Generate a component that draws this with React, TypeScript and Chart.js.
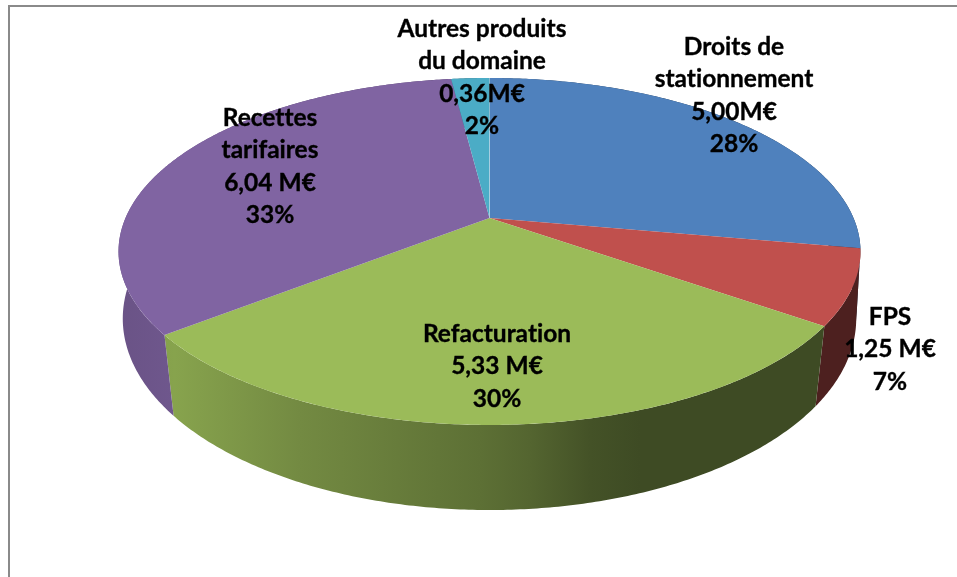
import React, { useEffect, useRef } from "react";
import { Chart, registerables } from "chart.js";

Chart.register(...registerables);

const categories = ["Droits de stationnement", "FPS", "Refacturation", "Recettes tarifaires", "Autres produits du domaine"];
const values = [5.0, 1.25, 5.33, 6.04, 0.36];
const colors = ["#4f81bd", "#c0504d", "#9bbb59", "#8064a2", "#4bacc6"];
const labelLines = [
  ["Droits de", "stationnement", "5,00M€", "28%"],
  ["FPS", "1,25 M€", "7%"],
  ["Refacturation", "5,33 M€", "30%"],
  ["Recettes", "tarifaires", "6,04 M€", "33%"],
  ["Autres produits", "du domaine", "0,36M€", "2%"],
];
const labelX = [734, 890, 497, 270, 482];
const labelY = [47, 317, 334, 118, 29];
const LINE_H = 32.3;

// perspective of the pie's top and bottom faces
const PX = 489.5;
const PY = 218;
const TOP = { b: 364, a: 167, y: PY, k: 0.193 };
const BOTTOM = { b: 362, a: 186.5, y: 288, k: 0.16 };
const SHADE_X = [119, 175, 300, 480, 530, 590, 640, 861];
const SHADE_F = [0.83, 0.87, 0.74, 0.6, 0.54, 0.44, 0.4, 0.4];

function project(f: { b: number; a: number; y: number; k: number }, angle: number) {
  const u = Math.cos(angle);
  const v = Math.sin(angle);
  const d = 1 - f.k * v;
  return { x: PX + (f.b * u) / d, y: f.y + (f.a * v) / d };
}

function hexShade(hex: string, f: number) {
  const n = parseInt(hex.slice(1), 16);
  const r = Math.round(((n >> 16) & 255) * f);
  const g = Math.round(((n >> 8) & 255) * f);
  const b = Math.round((n & 255) * f);
  return `rgb(${r},${g},${b})`;
}

const pie3d = {
  id: "pie3d",
  beforeDatasetDraw(chart: any) {
    const ctx = chart.ctx;
    const arcs = chart.getDatasetMeta(0).data;
    const x0 = SHADE_X[0];
    const xn = SHADE_X[SHADE_X.length - 1];
    arcs.forEach((arc: any, i: number) => {
      const g = ctx.createLinearGradient(x0, 0, xn, 0);
      SHADE_X.forEach((x, k) => g.addColorStop((x - x0) / (xn - x0), hexShade(colors[i], SHADE_F[k])));
      const n = Math.max(4, Math.ceil((arc.endAngle - arc.startAngle) / 0.01));
      ctx.beginPath();
      for (let s = 0; s <= n; s++) {
        const p = project(TOP, arc.startAngle + ((arc.endAngle - arc.startAngle) * s) / n);
        if (s === 0) ctx.moveTo(p.x, p.y);
        else ctx.lineTo(p.x, p.y);
      }
      for (let s = n; s >= 0; s--) {
        const p = project(BOTTOM, arc.startAngle + ((arc.endAngle - arc.startAngle) * s) / n);
        ctx.lineTo(p.x, p.y);
      }
      ctx.closePath();
      ctx.fillStyle = g;
      ctx.fill();
    });
    arcs.forEach((arc: any, i: number) => {
      const n = Math.max(4, Math.ceil((arc.endAngle - arc.startAngle) / 0.008));
      ctx.beginPath();
      ctx.moveTo(PX, PY);
      for (let s = 0; s <= n; s++) {
        const p = project(TOP, arc.startAngle + ((arc.endAngle - arc.startAngle) * s) / n);
        ctx.lineTo(p.x, p.y);
      }
      ctx.closePath();
      ctx.fillStyle = colors[i];
      ctx.fill();
    });
    const last = arcs[arcs.length - 1];
    const edge = project(TOP, last.endAngle);
    ctx.beginPath();
    ctx.moveTo(PX, PY);
    ctx.lineTo(edge.x, edge.y);
    ctx.strokeStyle = "rgba(255,255,255,0.35)";
    ctx.lineWidth = 1;
    ctx.stroke();
    return false;
  },
  afterDraw(chart: any) {
    const ctx = chart.ctx;
    ctx.save();
    ctx.fillStyle = "#8a8a8a";
    ctx.fillRect(8, 5, 949, 2);
    ctx.fillRect(8, 5, 2, 572);
    ctx.fillStyle = "#000";
    ctx.strokeStyle = "#000";
    ctx.lineWidth = 0.35;
    ctx.font = "bold 24.5px Lato";
    ctx.fontVariantLigatures = "none";
    ctx.textRendering = "optimizeSpeed";
    ctx.textAlign = "center";
    ctx.textBaseline = "middle";
    labelLines.forEach((lines, i) => {
      lines.forEach((t, k) => {
        ctx.fillText(t, labelX[i], labelY[i] + k * LINE_H);
        ctx.strokeText(t, labelX[i], labelY[i] + k * LINE_H);
      });
    });
    ctx.restore();
  },
};

export default function App() {
  const ref = useRef<HTMLCanvasElement>(null);
  useEffect(() => {
    const chart = new Chart(ref.current as HTMLCanvasElement, {
      type: "pie",
      data: {
        labels: categories,
        datasets: [{ data: values, backgroundColor: colors, borderWidth: 0 }],
      },
      options: {
        animation: false,
        responsive: false,
        plugins: { legend: { display: false }, tooltip: { enabled: false }, title: { display: false } },
      },
      plugins: [pie3d],
    } as any);
    return () => chart.destroy();
  }, []);
  return (
    <div style={{ position: "absolute", left: 0, top: 0, width: 957, height: 577, background: "#fff" }}>
      <canvas ref={ref} width={957} height={577} style={{ display: "block" }} />
    </div>
  );
}
